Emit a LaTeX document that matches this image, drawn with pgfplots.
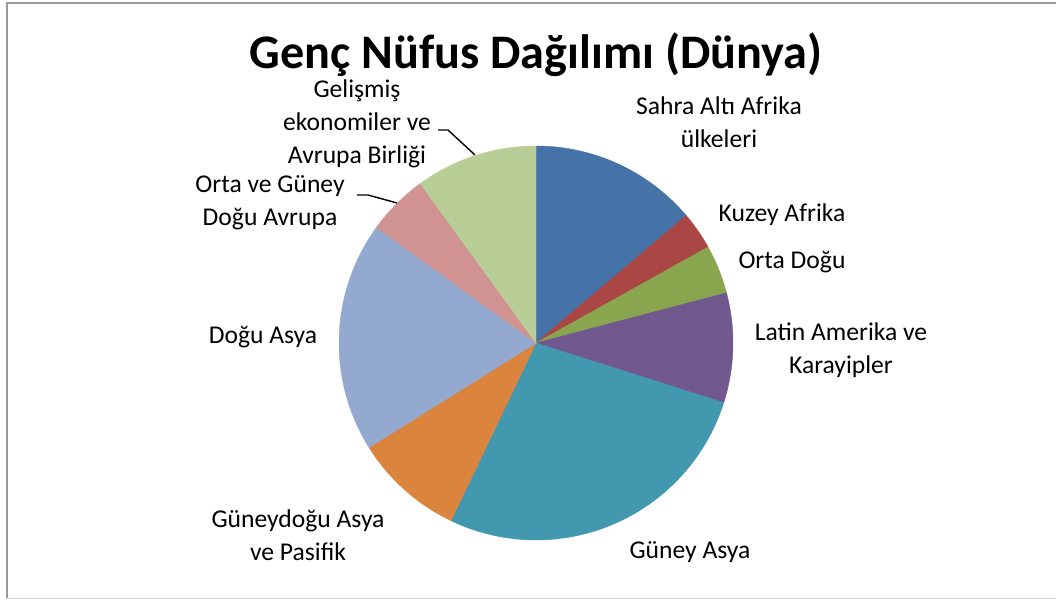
\documentclass[border=0pt]{standalone}
\usepackage{pgfplots}
\pgfplotsset{compat=1.18}
\usepackage{pgfplotstable}
\usepackage{fontspec}
\setmainfont{Carlito}
\definecolor{c0}{HTML}{4572A7}
\definecolor{c1}{HTML}{AA4643}
\definecolor{c2}{HTML}{89A54E}
\definecolor{c3}{HTML}{71588F}
\definecolor{c4}{HTML}{4198AF}
\definecolor{c5}{HTML}{DB843D}
\definecolor{c6}{HTML}{93A9CF}
\definecolor{c7}{HTML}{D19392}
\definecolor{c8}{HTML}{B9CD96}
% share of each region, percent (clockwise from 12 o'clock)
\pgfplotstableread{
value
13.8
3.1
4.0
9.0
27.2
9.0
18.9
5.0
10.0
}\piedata
\newcommand{\px}[2]{(axis cs:{(#1-536)/197},{(343-#2)/197})}
\begin{document}
\begin{tikzpicture}
\begin{axis}[
  at={(0,0)}, anchor=south west,
  scale only axis, width=528pt, height=300pt,
  xmin=-2.72081, xmax=2.63959, ymin=-1.30457, ymax=1.74112,
  hide axis, clip=false,
]
\gdef\cum{0}
\pgfplotsforeachungrouped \i in {0,...,8}{%
  \pgfplotstablegetelem{\i}{value}\of\piedata
  \pgfmathsetmacro{\astart}{90-3.6*\cum}%
  \pgfmathsetmacro{\aend}{90-3.6*(\cum+\pgfplotsretval)}%
  \pgfmathsetmacro{\newcum}{\cum+\pgfplotsretval}%
  \xdef\cum{\newcum}%
  \edef\cmd{\noexpand\addplot[fill=c\i, draw=c\i, line width=0.2pt, domain=\aend:\astart, samples=80] ({cos(x)},{sin(x)}) -- (axis cs:0,0) -- cycle;}%
  \cmd
}
% frame
\draw[gray!80, line width=1pt] (rel axis cs:0.0066,0.0033) -- (rel axis cs:0.0066,0.9958) -- (rel axis cs:1,0.9958);
\draw[gray!35, line width=0.5pt] (rel axis cs:0.0066,0.0033) -- (rel axis cs:1,0.0033);
% title
\node[font=\fontsize{24.1}{29}\selectfont\bfseries] at \px{536}{55} {Genç Nüfus Dağılımı (Dünya)};
% labels
\begin{scope}[every node/.style={font=\fontsize{12.8}{16.5}\selectfont, align=center, inner sep=0pt}]
\node at \px{719}{122} {Sahra Altı Afrika\\ülkeleri};
\node at \px{782}{215} {Kuzey Afrika};
\node at \px{792}{262} {Orta Doğu};
\node at \px{841}{350} {Latin Amerika ve\\Karayipler};
\node at \px{690}{552} {Güney Asya};
\node at \px{298}{535} {Güneydoğu Asya\\ve Pasifik};
\node at \px{263}{337} {Doğu Asya};
\node at \px{270}{203} {Orta ve Güney\\Doğu Avrupa};
\node at \px{357}{124} {Gelişmiş\\ekonomiler ve\\Avrupa Birliği};
\end{scope}
\draw[black, line width=0.7pt] \px{438}{130} -- \px{448}{130} -- \px{475}{155};
\draw[black, line width=0.7pt] \px{357}{195} -- \px{368}{195} -- \px{397}{203};
\end{axis}
\pgfresetboundingbox
\path[use as bounding box] (0,0) rectangle (528pt,300pt);
\end{tikzpicture}
\end{document}
